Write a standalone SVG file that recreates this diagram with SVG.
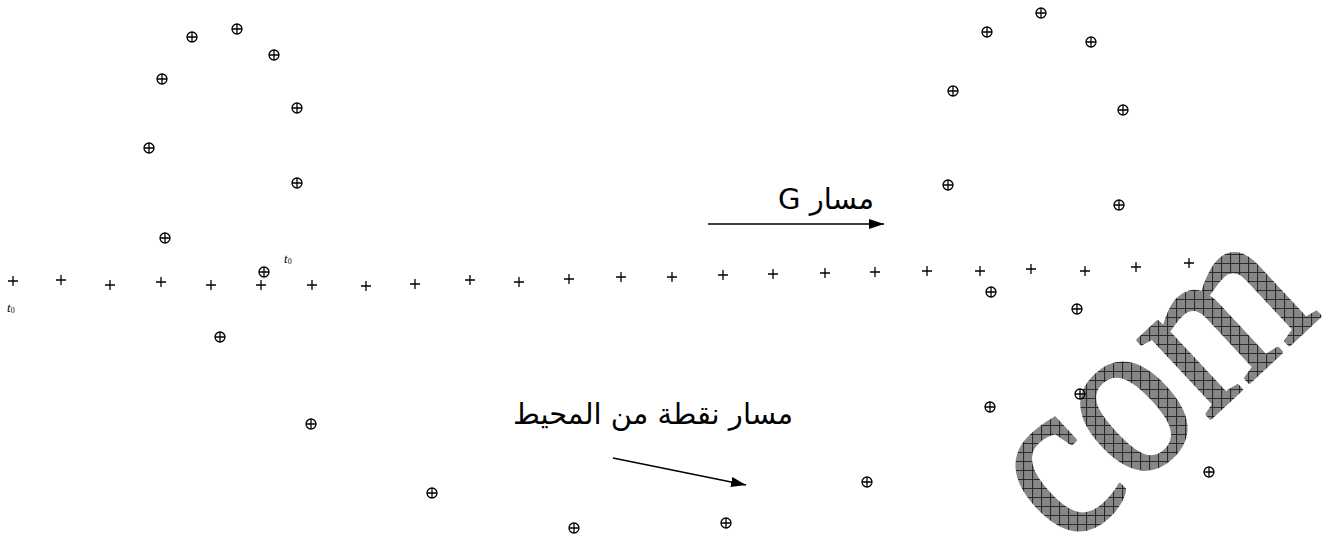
<svg xmlns="http://www.w3.org/2000/svg" xmlns:xlink="http://www.w3.org/1999/xlink" width="1327" height="541" viewBox="0 0 1327 541">
<style>
.pt{fill:none;stroke:#000;stroke-width:1.3}
.lbl{font-family:"DejaVu Sans","Noto Sans",sans-serif;fill:#000;font-size:29px}
.t0{font-family:"Liberation Serif",serif;font-style:italic;font-size:13px;fill:#000}
.sub{font-size:8px;font-style:normal}
.conn{stroke:#000;stroke-width:1.5;fill:none}
</style>
<defs>
<g id="op"><circle cx="0" cy="0" r="5" class="pt"/><path d="M-5 0H5M0 -5V5" class="pt"/></g>
<g id="pl"><path d="M-5 0H5M0 -5V5" class="pt"/></g>
<marker id="ah2" viewBox="0 0 15 10" refX="15" refY="5" markerWidth="15" markerHeight="10" markerUnits="userSpaceOnUse" orient="auto"><path d="M0 0L15 5L0 10Z" fill="#000"/></marker>
<pattern id="hatch" width="9" height="9" patternUnits="userSpaceOnUse" patternTransform="scale(1,0.8696) rotate(43)">
<rect width="9" height="9" fill="#878787"/>
<path d="M0 0.5H9M0.5 0V9" stroke="#262626" stroke-width="1"/>
</pattern>
</defs>

<g id="watermark">
<text transform="translate(1068,551) rotate(-43) scale(1,1.15)" font-family="Liberation Serif,serif" font-size="202" fill="url(#hatch)" stroke="url(#hatch)" stroke-width="3" stroke-linejoin="round">com</text>
</g>

<g id="centre-path">
<use xlink:href="#pl" x="13" y="281"/><use xlink:href="#pl" x="61" y="280"/><use xlink:href="#pl" x="110" y="285"/><use xlink:href="#pl" x="161" y="282"/>
<use xlink:href="#pl" x="211" y="285"/><use xlink:href="#pl" x="261" y="285"/><use xlink:href="#pl" x="312" y="285"/><use xlink:href="#pl" x="366" y="286"/>
<use xlink:href="#pl" x="415" y="284"/><use xlink:href="#pl" x="470" y="280"/><use xlink:href="#pl" x="519" y="282"/><use xlink:href="#pl" x="569" y="279"/>
<use xlink:href="#pl" x="621" y="277"/><use xlink:href="#pl" x="672" y="277"/><use xlink:href="#pl" x="723" y="275"/><use xlink:href="#pl" x="773" y="274"/>
<use xlink:href="#pl" x="825" y="273"/><use xlink:href="#pl" x="875" y="272"/><use xlink:href="#pl" x="927" y="271"/><use xlink:href="#pl" x="980" y="271"/>
<use xlink:href="#pl" x="1031" y="269"/><use xlink:href="#pl" x="1085" y="271"/><use xlink:href="#pl" x="1136" y="267"/><use xlink:href="#pl" x="1189" y="263"/>
</g>

<g id="rim-path">
<use xlink:href="#op" x="192" y="37"/><use xlink:href="#op" x="237" y="29"/><use xlink:href="#op" x="274" y="55"/><use xlink:href="#op" x="162" y="79"/>
<use xlink:href="#op" x="297" y="108"/><use xlink:href="#op" x="149" y="148"/><use xlink:href="#op" x="297" y="183"/><use xlink:href="#op" x="165" y="238"/>
<use xlink:href="#op" x="264" y="272"/><use xlink:href="#op" x="220" y="337"/><use xlink:href="#op" x="311" y="424"/><use xlink:href="#op" x="432" y="493"/>
<use xlink:href="#op" x="574" y="528"/><use xlink:href="#op" x="726" y="523"/><use xlink:href="#op" x="867" y="482"/>
<use xlink:href="#op" x="987" y="32"/><use xlink:href="#op" x="1041" y="13"/><use xlink:href="#op" x="1091" y="42"/><use xlink:href="#op" x="953" y="91"/>
<use xlink:href="#op" x="1123" y="110"/><use xlink:href="#op" x="948" y="185"/><use xlink:href="#op" x="1119" y="205"/><use xlink:href="#op" x="991" y="292"/>
<use xlink:href="#op" x="1077" y="309"/><use xlink:href="#op" x="1080" y="394"/><use xlink:href="#op" x="990" y="407"/><use xlink:href="#op" x="1209" y="472"/>
</g>

<g id="t0-left"><text class="t0" x="7" y="312">t<tspan class="sub" dy="1">0</tspan></text></g>
<g id="t0-right"><text class="t0" x="284" y="263">t<tspan class="sub" dy="1">0</tspan></text></g>

<g id="label-G"><text class="lbl" x="826" y="209" text-anchor="middle" direction="rtl" unicode-bidi="embed">مسار G</text></g>
<g id="label-rim"><text class="lbl" x="653" y="424" text-anchor="middle" direction="rtl" unicode-bidi="embed">مسار نقطة من المحيط</text></g>

<g id="connectors">
<line class="conn" x1="708" y1="224" x2="884" y2="224" marker-end="url(#ah2)"/>
<line class="conn" x1="613" y1="458" x2="746" y2="485" marker-end="url(#ah2)"/>
</g>
</svg>
